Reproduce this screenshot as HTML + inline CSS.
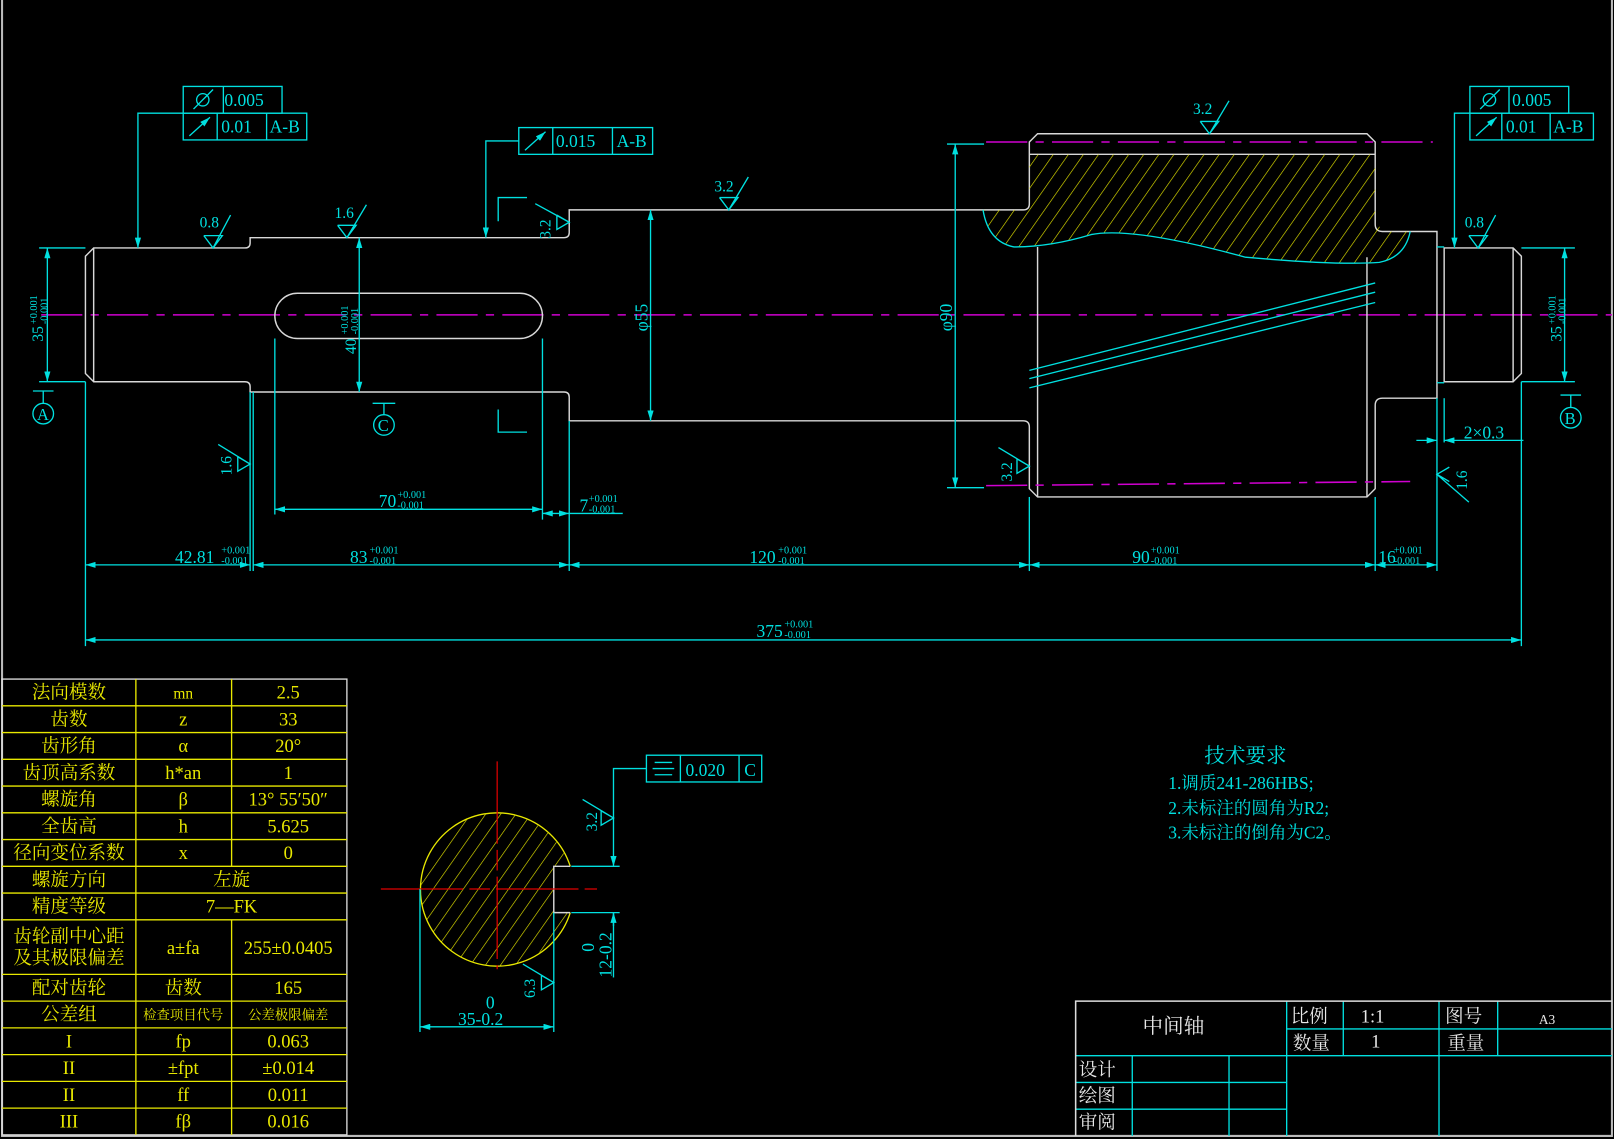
<!DOCTYPE html>
<html><head><meta charset="utf-8"><style>
html,body{margin:0;padding:0;background:#000;overflow:hidden}
svg{display:block}
text{font-family:"Liberation Serif","Noto Serif CJK SC","Noto Sans CJK SC",serif}
.c{stroke:#00e0e0;fill:none;stroke-width:1.3}
.w{stroke:#d8d8d8;fill:none;stroke-width:1.4}
.m{stroke:#d000d0;fill:none;stroke-width:1.5;stroke-dasharray:40 8 8 8}
.y{stroke:#e8e800;fill:none;stroke-width:1.3}
.tc{fill:#00e0e0;font-size:17px}
.ts{fill:#00e0e0;font-size:10px}
.ty{fill:#e8e800;font-size:18px;text-anchor:middle}
.tw{fill:#e8e8e8;font-size:18px}
</style></head><body>
<svg width="1614" height="1139" viewBox="0 0 1568 1107" preserveAspectRatio="none" xmlns="http://www.w3.org/2000/svg">
<defs>
<marker id="a" viewBox="0 0 10 6" refX="10" refY="3" markerWidth="10" markerHeight="6" orient="auto-start-reverse" markerUnits="userSpaceOnUse"><path d="M0,0L10,3L0,6z" fill="#00e0e0"/></marker>
<pattern id="h" width="12" height="12" patternUnits="userSpaceOnUse" patternTransform="rotate(35)"><line x1="0" y1="0" x2="0" y2="12" stroke="#e8e800" stroke-width="1.2"/></pattern>
<clipPath id="gc"><path d="M1000,150 L1336,150 L1336,212 Q1340,225 1350,225 L1370,225 Q1365,250 1340,255 Q1300,258 1210,250 Q1100,220 1060,228 Q1020,240 985,240 Q960,235 955,204 L994,204 Q1000,200 1000,190z"/></clipPath>
</defs>
<rect width="1568" height="1107" fill="#000"/>
<path d="M2,0V1104H1566V0" stroke="#bbb" fill="none" stroke-width="2"/>

<!-- centerline -->
<line x1="40" y1="306" x2="1566" y2="306" class="m"/>

<!-- shaft outline -->
<path class="w" d="M91,241H238Q243,241 243,236V231H470 548Q553,231 553,226V204H994Q1000,204 1000,198V138L1008,130H1328L1336,138V218Q1336,225 1343,225H1396V387H1343Q1336,387 1336,394V475L1328,483H1008L1000,475V415Q1000,409 994,409H553V386Q553,381 548,381H243V376Q243,371 238,371H91L83,363V249Z"/>
<line class="w" x1="91" y1="241" x2="91" y2="371"/>
<line class="w" x1="1000" y1="150" x2="1336" y2="150"/>
<line class="w" x1="1008" y1="240" x2="1008" y2="483"/>
<line class="w" x1="1328" y1="250" x2="1328" y2="483"/>
<path class="w" d="M1403,241H1470L1478,249V363L1470,371H1403Z"/>
<line class="w" x1="1470" y1="241" x2="1470" y2="371"/>
<line class="c" x1="1396" y1="240" x2="1403" y2="240"/><line class="c" x1="1396" y1="372" x2="1403" y2="372"/>
<rect x="267" y="285" width="260" height="44" rx="22" class="w"/>
<!-- gear hatch -->
<rect x="940" y="140" width="440" height="130" fill="url(#h)" clip-path="url(#gc)"/>
<path class="c" d="M955,204 Q960,235 985,240 Q1020,240 1060,228 Q1100,220 1210,250 Q1300,258 1340,255 Q1365,250 1370,225"/>
<line class="m" x1="958" y1="138" x2="1392" y2="138"/>
<line class="m" x1="958" y1="472" x2="1370" y2="468"/>
<!-- helix lines -->
<line class="c" x1="1000" y1="360" x2="1336" y2="275"/>
<line class="c" x1="1000" y1="368" x2="1336" y2="284"/>
<line class="c" x1="1000" y1="377" x2="1336" y2="294"/>

<!-- dims vertical -->
<g class="c">
<line x1="38" y1="241" x2="83" y2="241"/><line x1="38" y1="371" x2="83" y2="371"/>
<line x1="46" y1="241" x2="46" y2="371" marker-start="url(#a)" marker-end="url(#a)"/>
<line x1="349" y1="231" x2="349" y2="381" marker-start="url(#a)" marker-end="url(#a)"/>
<line x1="632" y1="204" x2="632" y2="409" marker-start="url(#a)" marker-end="url(#a)"/>
<line x1="920" y1="140" x2="956" y2="140"/><line x1="920" y1="474" x2="956" y2="474"/>
<line x1="928" y1="140" x2="928" y2="474" marker-start="url(#a)" marker-end="url(#a)"/>
<line x1="1478" y1="241" x2="1530" y2="241"/><line x1="1478" y1="371" x2="1530" y2="371"/>
<line x1="1520" y1="241" x2="1520" y2="371" marker-start="url(#a)" marker-end="url(#a)"/>
<!-- extension lines -->
<line x1="83" y1="371" x2="83" y2="628"/>
<line x1="243" y1="381" x2="243" y2="555"/><line x1="246" y1="381" x2="246" y2="555"/>
<line x1="267" y1="329" x2="267" y2="500"/><line x1="527" y1="329" x2="527" y2="505"/>
<line x1="553" y1="409" x2="553" y2="555"/>
<line x1="1000" y1="483" x2="1000" y2="555"/><line x1="1336" y1="483" x2="1336" y2="555"/>
<line x1="1396" y1="387" x2="1396" y2="555"/><line x1="1403" y1="387" x2="1403" y2="430"/>
<line x1="1478" y1="371" x2="1478" y2="628"/>
<!-- horizontal dims -->
<line x1="267" y1="495" x2="527" y2="495" marker-start="url(#a)" marker-end="url(#a)"/>
<line x1="527" y1="499" x2="553" y2="499" marker-start="url(#a)" marker-end="url(#a)"/><line x1="553" y1="499" x2="605" y2="499"/>
<line x1="83" y1="549" x2="243" y2="549" marker-start="url(#a)" marker-end="url(#a)"/>
<line x1="246" y1="549" x2="553" y2="549" marker-start="url(#a)" marker-end="url(#a)"/>
<line x1="553" y1="549" x2="1000" y2="549" marker-start="url(#a)" marker-end="url(#a)"/>
<line x1="1000" y1="549" x2="1336" y2="549" marker-start="url(#a)" marker-end="url(#a)"/>
<line x1="1336" y1="549" x2="1396" y2="549" marker-start="url(#a)" marker-end="url(#a)"/>
<line x1="83" y1="622" x2="1478" y2="622" marker-start="url(#a)" marker-end="url(#a)"/>
<line x1="1376" y1="428" x2="1396" y2="428" marker-end="url(#a)"/><line x1="1403" y1="428" x2="1480" y2="428" marker-start="url(#a)"/>
<!-- section arrows -->
<path d="M484,215V192H512"/><path d="M484,398V420H512"/>
<!-- datum symbols -->
<line x1="32" y1="380" x2="52" y2="380"/><line x1="42" y1="380" x2="42" y2="392"/><circle cx="42" cy="402" r="10"/>
<line x1="362" y1="392" x2="384" y2="392"/><line x1="373" y1="392" x2="373" y2="403"/><circle cx="373" cy="413" r="10"/>
<line x1="1516" y1="384" x2="1536" y2="384"/><line x1="1526" y1="384" x2="1526" y2="396"/><circle cx="1526" cy="406" r="10"/>
<!-- FCF leaders -->
<path d="M178,110H134V241" marker-end="url(#a)"/>
<path d="M504,137H472V231" marker-end="url(#a)"/>
<path d="M1428,110H1413V241" marker-end="url(#a)"/>
<!-- FCF boxes -->
<rect x="178" y="84" width="96" height="26"/><line x1="217" y1="84" x2="217" y2="110"/>
<rect x="178" y="110" width="120" height="26"/><line x1="211" y1="110" x2="211" y2="136"/><line x1="259" y1="110" x2="259" y2="136"/>
<rect x="504" y="124" width="130" height="26"/><line x1="537" y1="124" x2="537" y2="150"/><line x1="595" y1="124" x2="595" y2="150"/>
<rect x="1428" y="84" width="96" height="26"/><line x1="1466" y1="84" x2="1466" y2="110"/>
<rect x="1428" y="110" width="120" height="26"/><line x1="1459" y1="110" x2="1459" y2="136"/><line x1="1506" y1="110" x2="1506" y2="136"/>
<!-- symbols in boxes -->
<circle cx="197" cy="97" r="6"/><line x1="188" y1="106" x2="207" y2="87"/>
<circle cx="1447" cy="97" r="6"/><line x1="1438" y1="106" x2="1457" y2="87"/>
<line x1="184" y1="132" x2="204" y2="114" marker-end="url(#a)"/>
<line x1="510" y1="146" x2="530" y2="128" marker-end="url(#a)"/>
<line x1="1434" y1="132" x2="1454" y2="114" marker-end="url(#a)"/>
<!-- roughness symbols -->
<path d="M198,229L207,241L216,229H198M207,241L224,209"/>
<path d="M328,219L337,231L346,219H328M337,231L356,199"/>
<path d="M699,192L708,204L717,192H699M708,204L727,172"/>
<path d="M1166,118L1175,130L1184,118H1166M1175,130L1194,98"/>
<path d="M1427,229L1436,241L1445,229H1427M1436,241L1453,209"/>
<path d="M541,209L553,216L541,223V209M553,216L520,198"/>
<path d="M231,444L243,451L231,458V444M243,451L212,432"/>
<path d="M988,446L1000,453L988,460V446M1000,453L970,435"/>
<path d="M1408,468L1396,461L1408,454M1396,461L1427,488"/>
</g>

<g class="tc">
<text x="218" y="103">0.005</text><text x="215" y="129">0.01</text><text x="262" y="129">A-B</text>
<text x="540" y="143">0.015</text><text x="599" y="143">A-B</text>
<text x="1469" y="103">0.005</text><text x="1463" y="129">0.01</text><text x="1509" y="129">A-B</text>
<text x="194" y="221" font-size="15">0.8</text><text x="325" y="212" font-size="15">1.6</text>
<text x="694" y="186" font-size="15">3.2</text><text x="1159" y="111" font-size="15">3.2</text>
<text x="1423" y="221" font-size="15">0.8</text>
<text x="535" y="232" font-size="15" transform="rotate(-90 535 232)">3.2</text>
<text x="225" y="462" font-size="15" transform="rotate(-90 225 462)">1.6</text>
<text x="983" y="468" font-size="15" transform="rotate(-90 983 468)">3.2</text>
<text x="1425" y="476" font-size="15" transform="rotate(-90 1425 476)">1.6</text>
<text x="42" y="332" font-size="15" transform="rotate(-90 42 332)">35</text>
<text x="346" y="344" font-size="15" transform="rotate(-90 346 344)">40</text>
<text x="629" y="322" transform="rotate(-90 629 322)">φ55</text>
<text x="925" y="322" transform="rotate(-90 925 322)">φ90</text>
<text x="1517" y="332" font-size="15" transform="rotate(-90 1517 332)">35</text>
<text x="368" y="493">70</text><text x="563" y="497">7</text>
<text x="170" y="547">42.81</text><text x="340" y="547">83</text><text x="728" y="547">120</text>
<text x="1100" y="547">90</text><text x="1339" y="547">16</text><text x="735" y="619">375</text>
<text x="1422" y="426">2×0.3</text>
<text x="36" y="408" font-size="16">A</text><text x="367" y="419" font-size="16">C</text><text x="1520" y="412" font-size="16">B</text>
</g>
<g class="ts">
<text x="386" y="484">+0.001</text><text x="386" y="494">-0.001</text>
<text x="572" y="488">+0.001</text><text x="572" y="498">-0.001</text>
<text x="215" y="538">+0.001</text><text x="215" y="548">-0.001</text>
<text x="359" y="538">+0.001</text><text x="359" y="548">-0.001</text>
<text x="756" y="538">+0.001</text><text x="756" y="548">-0.001</text>
<text x="1118" y="538">+0.001</text><text x="1118" y="548">-0.001</text>
<text x="1354" y="538">+0.001</text><text x="1354" y="548">-0.001</text>
<text x="762" y="610">+0.001</text><text x="762" y="620">-0.001</text>
<text x="36" y="315" transform="rotate(-90 36 315)">+0.001</text><text x="46" y="315" transform="rotate(-90 46 315)">-0.001</text>
<text x="338" y="325" transform="rotate(-90 338 325)">+0.001</text><text x="348" y="325" transform="rotate(-90 348 325)">-0.001</text>
<text x="1511" y="315" transform="rotate(-90 1511 315)">+0.001</text><text x="1521" y="315" transform="rotate(-90 1521 315)">-0.001</text>
</g>

<!-- section view -->
<g>
<clipPath id="cc"><path d="M553,842 A74,74 0 1 0 553,887 L538,887 L538,842Z"/></clipPath>
<rect x="400" y="780" width="170" height="170" fill="url(#h)" clip-path="url(#cc)"/>
<path class="y" d="M554,842 A74.5,74.5 0 1 0 554,887"/>
<path class="w" d="M554,842H538V887H554"/>
<line x1="370" y1="864" x2="580" y2="864" stroke="#e00000" stroke-width="1.2" stroke-dasharray="80 6 20 6"/>
<line x1="483" y1="740" x2="483" y2="942" stroke="#e00000" stroke-width="1.2" stroke-dasharray="80 6 20 6"/>
<g class="c">
<line x1="408" y1="864" x2="408" y2="1003"/><line x1="538" y1="887" x2="538" y2="1003"/>
<line x1="408" y1="998" x2="538" y2="998" marker-start="url(#a)" marker-end="url(#a)"/>
<line x1="555" y1="842" x2="602" y2="842"/><line x1="555" y1="887" x2="602" y2="887"/>
<path d="M628,747H596V842" marker-end="url(#a)"/><line x1="596" y1="887" x2="596" y2="950" /><line x1="596" y1="900" x2="596" y2="887" marker-end="url(#a)"/>
<rect x="628" y="734" width="112" height="26"/><line x1="661" y1="734" x2="661" y2="760"/><line x1="718" y1="734" x2="718" y2="760"/>
<line x1="636" y1="741" x2="653" y2="741"/><line x1="634" y1="747" x2="655" y2="747"/><line x1="636" y1="753" x2="653" y2="753"/>
<path d="M584,788L596,795L584,802V788M596,795L566,777"/>
<path d="M526,948L538,955L526,962V948M538,955L508,937"/>
</g>
<g class="tc">
<text x="666" y="754">0.020</text><text x="723" y="754">C</text>
<text x="580" y="808" font-size="15" transform="rotate(-90 580 808)">3.2</text>
<text x="520" y="970" font-size="15" transform="rotate(-90 520 970)">6.3</text>
<text x="472" y="980">0</text><text x="445" y="996">35-0.2</text>
<text x="577" y="925" transform="rotate(-90 577 925)">0</text>
<text x="594" y="950" transform="rotate(-90 594 950)">12-0.2</text>
</g>
</g>

<!-- tech requirements -->
<g class="tc">
<text x="1170" y="741" font-size="20">技术要求</text>
<text x="1135" y="767">1.调质241-286HBS;</text>
<text x="1135" y="791">2.未标注的圆角为R2;</text>
<text x="1135" y="815">3.未标注的倒角为C2。</text>
</g>

<!-- gear table -->
<g class="y" stroke-width="1.5">
<rect x="2" y="660" width="335" height="443" stroke="#ddd"/>
<path d="M2,686H337M2,712H337M2,738H337M2,764H337M2,790H337M2,816H337M2,842H337M2,868H337M2,894H337M2,947H337M2,973H337M2,999H337M2,1025H337M2,1051H337M2,1077H337"/>
<path d="M132,660V842M225,660V842M132,894V1103M225,894V1103M132,842V894"/>
</g>
<g class="ty">
<text x="67" y="679">法向模数</text><text x="178" y="679" font-size="15">mn</text><text x="280" y="679">2.5</text>
<text x="67" y="705">齿数</text><text x="178" y="705">z</text><text x="280" y="705">33</text>
<text x="67" y="731">齿形角</text><text x="178" y="731">α</text><text x="280" y="731">20°</text>
<text x="67" y="757">齿顶高系数</text><text x="178" y="757">h*an</text><text x="280" y="757">1</text>
<text x="67" y="783">螺旋角</text><text x="178" y="783">β</text><text x="280" y="783">13° 55′50″</text>
<text x="67" y="809">全齿高</text><text x="178" y="809">h</text><text x="280" y="809">5.625</text>
<text x="67" y="835">径向变位系数</text><text x="178" y="835">x</text><text x="280" y="835">0</text>
<text x="67" y="861">螺旋方向</text><text x="225" y="861">左旋</text>
<text x="67" y="887">精度等级</text><text x="225" y="887">7—FK</text>
<text x="67" y="916">齿轮副中心距</text><text x="67" y="937">及其极限偏差</text><text x="178" y="927">a±fa</text><text x="280" y="927">255±0.0405</text>
<text x="67" y="966">配对齿轮</text><text x="178" y="966">齿数</text><text x="280" y="966">165</text>
<text x="67" y="992">公差组</text><text x="178" y="991" font-size="13">检查项目代号</text><text x="280" y="991" font-size="13">公差极限偏差</text>
<text x="67" y="1018">I</text><text x="178" y="1018">fp</text><text x="280" y="1018">0.063</text>
<text x="67" y="1044">II</text><text x="178" y="1044">±fpt</text><text x="280" y="1044">±0.014</text>
<text x="67" y="1070">II</text><text x="178" y="1070">ff</text><text x="280" y="1070">0.011</text>
<text x="67" y="1096">III</text><text x="178" y="1096">fβ</text><text x="280" y="1096">0.016</text>
</g>

<!-- title block -->
<g class="c" stroke-width="1.5">
<path d="M1045,1026H1566M1250,1000H1566M1045,1052H1250M1045,1078H1250"/>
<path d="M1250,973V1104M1305,973V1026M1398,973V1104M1455,973V1026M1100,1026V1104M1194,1026V1104"/>
</g>
<path d="M1045,1104V973H1566" stroke="#ddd" fill="none" stroke-width="1.5"/>
<g class="tw">
<text x="1110" y="1004" font-size="20">中间轴</text>
<text x="1254" y="994">比例</text><text x="1322" y="994">1:1</text><text x="1404" y="994">图号</text><text x="1495" y="995" font-size="13" font-family="Liberation Sans">A3</text>
<text x="1256" y="1020">数量</text><text x="1332" y="1018">1</text><text x="1406" y="1020">重量</text>
<text x="1048" y="1046">设计</text><text x="1048" y="1071">绘图</text><text x="1048" y="1097">审阅</text>
</g>
</svg>
</body></html>
